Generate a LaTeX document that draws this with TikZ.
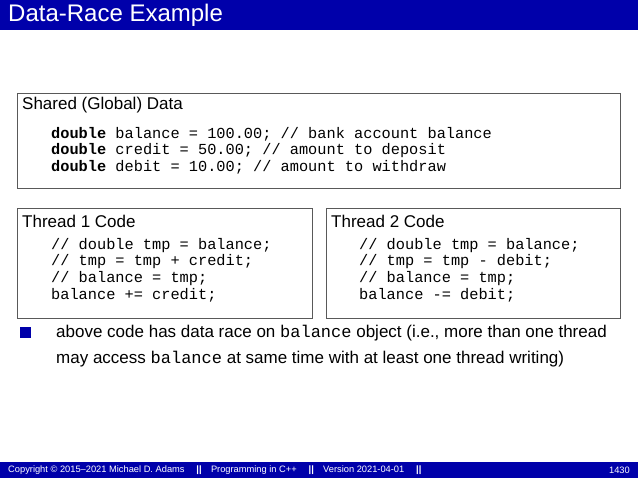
\documentclass[tikz,border=0pt]{standalone}
\usepackage{fontspec}
\setmainfont{Liberation Sans}
\setmonofont{Liberation Mono}
\begin{document}
\begin{tikzpicture}[x=1pt,y=-1pt,
  box/.style={draw=black!65,line width=0.8pt},
  hd/.style={anchor=west,inner sep=0,font=\fontsize{17}{20}\selectfont},
  code/.style={anchor=north west,inner sep=0,align=left,font=\ttfamily\fontsize{15.3}{16.7}\selectfont},
  ft/.style={anchor=west,inner sep=0,text=white,font=\fontsize{9.3}{11}\selectfont}]
\definecolor{bar}{RGB}{0,0,170}
\useasboundingbox (0,0) rectangle (638,478);
\fill[bar] (0,0) rectangle (638,30);
\node[anchor=west,inner sep=0,text=white,font=\fontsize{24}{28}\selectfont] (title) at (8,15) {Data-Race Example};
\draw[box] (17,93) rectangle (620,188);
\node[hd] (sh) at (22,105) {Shared (Global) Data};
\node[code] (shc) at (51,127) {\textbf{double} balance = 100.00; // bank account balance\\\textbf{double} credit = 50.00; // amount to deposit\\\textbf{double} debit = 10.00; // amount to withdraw};
\draw[box] (17,208) rectangle (312,318);
\node[hd] (t1) at (22,221) {Thread 1 Code};
\node[code] (t1c) at (51,238) {// double tmp = balance;\\// tmp = tmp + credit;\\// balance = tmp;\\balance += credit;};
\draw[box] (326,208) rectangle (620,318);
\node[hd] (t2) at (331,221) {Thread 2 Code};
\node[code] (t2c) at (359,238) {// double tmp = balance;\\// tmp = tmp - debit;\\// balance = tmp;\\balance -= debit;};
\fill[bar] (20,327) rectangle (31,338);
\node[anchor=north west,inner sep=0,align=left,font=\fontsize{17}{26}\selectfont] (bul) at (56,325) {above code has data race on {\ttfamily balance} object (i.e., more than one thread\\may access {\ttfamily balance} at same time with at least one thread writing)};
\fill[bar] (0,462) rectangle (638,478);
\node[ft] (f1) at (8,470) {Copyright \textcopyright{} 2015--2021 Michael D. Adams \quad\textbf{||}\quad Programming in C++ \quad\textbf{||}\quad Version 2021-04-01 \quad\textbf{||}};
\node[ft,anchor=east] (f2) at (630,470) {1430};
\end{tikzpicture}
\end{document}
